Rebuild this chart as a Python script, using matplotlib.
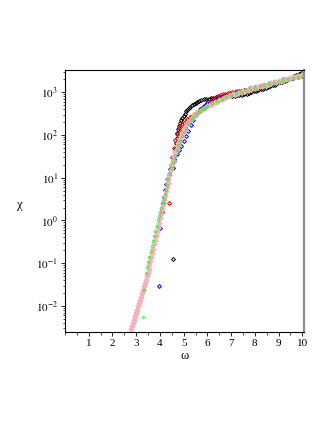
import matplotlib
matplotlib.use("Agg")
import matplotlib.pyplot as plt
from matplotlib.ticker import FixedLocator, MultipleLocator, LogLocator, NullFormatter
import numpy as np

plt.rcParams['font.family'] = ['Liberation Serif', 'DejaVu Serif']
plt.rcParams['mathtext.fontset'] = 'stix'

# log10(chi) against omega
black_w = [4.53, 4.56, 4.59, 4.62, 4.65, 4.68, 4.71, 4.74, 4.78, 4.82, 4.86, 4.90, 4.95,
           5.00, 5.05, 5.10, 5.16, 5.22, 5.28, 5.35, 5.42, 5.50, 5.58, 5.66, 5.75, 5.85,
           5.95, 6.05, 6.15, 6.25, 6.35, 6.45, 6.55, 6.65, 6.75, 6.85, 6.95, 7.05, 7.15,
           7.25, 7.35, 7.45, 7.55, 7.65, 7.75, 7.85, 7.95, 8.05, 8.15, 8.25, 8.35, 8.45,
           8.55, 8.65, 8.75, 8.85, 8.95, 9.05, 9.15, 9.25, 9.35, 9.45, 9.55, 9.65, 9.75,
           9.85, 9.95, 10.05]
black_lg = [-0.90, 1.22, 1.38, 1.54, 1.68, 1.82, 1.94, 2.04, 2.13, 2.21, 2.28, 2.34, 2.40,
            2.45, 2.50, 2.55, 2.59, 2.63, 2.66, 2.69, 2.72, 2.75, 2.77, 2.79, 2.81, 2.83,
            2.84, 2.85, 2.86, 2.87, 2.88, 2.88, 2.89, 2.90, 2.90, 2.91, 2.91, 2.92, 2.92,
            2.93, 2.93, 2.94, 2.95, 2.96, 2.98, 3.00, 3.02, 3.04, 3.05, 3.07, 3.08, 3.10,
            3.12, 3.14, 3.16, 3.18, 3.21, 3.23, 3.25, 3.27, 3.29, 3.32, 3.34, 3.37, 3.40,
            3.43, 3.46, 3.48]

red_w = [4.38, 4.45, 4.51, 4.58, 4.65, 4.72, 4.79, 4.86, 4.93, 5.00, 5.08, 5.16, 5.25,
         5.35, 5.45, 5.55, 5.65, 5.75, 5.85, 5.95, 6.05, 6.15, 6.25, 6.35, 6.45, 6.55,
         6.65, 6.75, 6.85, 6.95, 7.05, 7.15, 7.25, 7.35, 7.45, 7.55, 7.65, 7.75, 7.85,
         7.95, 8.10, 8.30, 8.50, 8.70, 8.90, 9.10, 9.30, 9.50, 9.70, 9.90, 10.00]
red_lg = [0.41, 1.30, 1.49, 1.70, 1.88, 2.02, 2.12, 2.19, 2.25, 2.29, 2.33, 2.37, 2.41,
          2.45, 2.49, 2.53, 2.57, 2.61, 2.65, 2.70, 2.75, 2.79, 2.83, 2.87, 2.90, 2.93,
          2.95, 2.97, 2.98, 2.99, 3.00, 3.01, 3.02, 3.03, 3.04, 3.05, 3.06, 3.07, 3.08,
          3.10, 3.12, 3.15, 3.18, 3.21, 3.24, 3.27, 3.30, 3.33, 3.35, 3.38, 3.39]

blue_w = [3.95, 4.02, 4.09, 4.13, 4.17, 4.21, 4.26, 4.31, 4.37, 4.44, 4.52, 4.60, 4.70,
          4.80, 4.90, 5.00, 5.10, 5.20, 5.30, 5.40, 5.50, 5.60, 5.70, 5.80, 5.90, 6.00,
          6.20, 6.40, 6.60, 6.80, 7.00, 7.20, 7.40, 7.60, 7.80, 8.00, 8.20, 8.40, 8.60,
          8.80, 9.00, 9.20, 9.40, 9.60, 9.80, 10.00]
blue_lg = [-1.53, -0.17, 0.20, 0.40, 0.55, 0.72, 0.85, 0.96, 1.08, 1.20, 1.33, 1.44, 1.56,
           1.65, 1.74, 1.85, 1.97, 2.10, 2.24, 2.36, 2.46, 2.54, 2.60, 2.65, 2.70, 2.74,
           2.80, 2.85, 2.89, 2.93, 2.97, 3.00, 3.03, 3.06, 3.09, 3.12, 3.15, 3.18, 3.21,
           3.24, 3.27, 3.30, 3.32, 3.34, 3.36, 3.38]

green_w = [3.29, 3.34, 3.41, 3.46, 3.51, 3.56, 3.61, 3.66, 3.71, 3.76, 3.81, 3.86, 3.91,
           3.96, 4.01, 4.06, 4.11, 4.16, 4.21, 4.26, 4.31, 4.36, 4.42, 4.48, 4.55, 4.62,
           4.70, 4.78, 4.86, 4.94, 5.02, 5.10, 5.20, 5.30, 5.40, 5.50, 5.60, 5.70, 5.80,
           5.90, 6.00, 6.20, 6.40, 6.60, 6.80, 7.00, 7.20, 7.40, 7.60, 7.80, 8.00, 8.20,
           8.40, 8.60, 8.80, 9.00, 9.20, 9.40, 9.60, 9.80, 10.00]
green_lg = [-2.27, -1.63, -1.22, -1.10, -0.98, -0.85, -0.72, -0.60, -0.48, -0.36, -0.24,
            -0.12, 0.00, 0.10, 0.20, 0.30, 0.40, 0.50, 0.61, 0.72, 0.84, 0.96, 1.09, 1.22,
            1.37, 1.50, 1.64, 1.76, 1.87, 1.98, 2.08, 2.17, 2.27, 2.35, 2.42, 2.48, 2.53,
            2.57, 2.61, 2.64, 2.68, 2.74, 2.79, 2.84, 2.89, 2.94, 2.98, 3.01, 3.05, 3.08,
            3.11, 3.14, 3.17, 3.20, 3.22, 3.25, 3.28, 3.31, 3.33, 3.35, 3.37]

rose_w = [2.79, 2.83, 2.87, 2.91, 2.95, 2.99, 3.03, 3.07, 3.11, 3.15, 3.19, 3.23, 3.27,
          3.31, 3.35]
rose_lg = [-2.55, -2.47, -2.40, -2.32, -2.24, -2.17, -2.09, -2.01, -1.93, -1.86, -1.78,
           -1.70, -1.62, -1.54, -1.47]

pink_w = [2.80, 2.84, 2.88, 2.92, 2.96, 3.00, 3.04, 3.08, 3.12, 3.16, 3.20, 3.24, 3.28,
          3.32, 3.36, 3.40, 3.44, 3.48, 3.52, 3.56, 3.60, 3.64, 3.68, 3.72, 3.76, 3.80,
          3.84, 3.88, 3.92, 3.96, 4.00, 4.04, 4.08, 4.12, 4.16, 4.20, 4.24, 4.28, 4.32,
          4.36, 4.40, 4.45, 4.50, 4.55, 4.60, 4.65, 4.70, 4.75, 4.80, 4.85, 4.90, 4.95,
          5.00, 5.05, 5.10, 5.15, 5.20, 5.25, 5.30, 5.35, 5.40, 5.45, 5.50, 5.55, 5.60,
          5.70, 5.80, 5.90, 6.00, 6.10, 6.20, 6.30, 6.40, 6.50, 6.60, 6.70, 6.80, 6.90,
          7.00, 7.10, 7.20, 7.30, 7.40, 7.50, 7.60, 7.70, 7.80, 7.90, 8.00, 8.10, 8.20,
          8.30, 8.40, 8.50, 8.60, 8.70, 8.80, 8.90, 9.00, 9.10, 9.20, 9.30, 9.40, 9.50,
          9.60, 9.70, 9.80, 9.90, 10.00]
pink_lg = [-2.55, -2.47, -2.40, -2.32, -2.24, -2.17, -2.09, -2.01, -1.93, -1.86, -1.78,
           -1.70, -1.62, -1.54, -1.47, -1.39, -1.31, -1.22, -1.13, -1.04, -0.95, -0.86,
           -0.76, -0.66, -0.56, -0.46, -0.36, -0.26, -0.16, -0.06, 0.05, 0.15, 0.26, 0.36,
           0.47, 0.57, 0.68, 0.78, 0.88, 0.97, 1.07, 1.19, 1.30, 1.40, 1.50, 1.59, 1.68,
           1.76, 1.84, 1.91, 1.98, 2.04, 2.10, 2.15, 2.20, 2.25, 2.30, 2.34, 2.37, 2.40,
           2.43, 2.46, 2.48, 2.51, 2.53, 2.57, 2.60, 2.64, 2.67, 2.70, 2.73, 2.76, 2.78,
           2.81, 2.83, 2.86, 2.88, 2.91, 2.93, 2.95, 2.97, 2.99, 3.00, 3.02, 3.04, 3.06,
           3.08, 3.09, 3.11, 3.12, 3.14, 3.15, 3.17, 3.18, 3.20, 3.21, 3.23, 3.24, 3.26,
           3.27, 3.29, 3.30, 3.32, 3.33, 3.35, 3.36, 3.37, 3.39, 3.40]

x_ticks = [1, 2, 3, 4, 5, 6, 7, 8, 9, 10]
y_ticks = [1e-2, 1e-1, 1e0, 1e1, 1e2, 1e3]

fig = plt.figure(figsize=(3.32, 4.30), dpi=100)
ax = fig.add_axes([65 / 332, 1 - 332 / 430, 239 / 332, 262 / 430])

open_style = dict(linestyle="none", marker="D", markersize=2.0, markerfacecolor="none",
                  markeredgewidth=0.7)
ax.plot(black_w, 10 ** np.array(black_lg), color="black", **open_style)
ax.plot(red_w, 10 ** np.array(red_lg), color="red", **open_style)
ax.plot(blue_w, 10 ** np.array(blue_lg), color="blue", **open_style)
ax.plot(rose_w, 10 ** np.array(rose_lg), color="#b0404c", **open_style)
ax.plot(pink_w, 10 ** np.array(pink_lg), linestyle="none", marker="D", markersize=2.8,
        color="#f7b3bd", markeredgewidth=0.6)
ax.plot(green_w, 10 ** np.array(green_lg), color="#22ee22", linestyle="none", marker="D",
        markersize=1.6, markerfacecolor="none", markeredgewidth=0.5)

ax.set_yscale("log")
ax.set_xlim(0, 10.07)
ax.set_ylim(10 ** -2.61, 10 ** 3.52)

ax.xaxis.set_major_locator(FixedLocator(x_ticks))
ax.xaxis.set_minor_locator(MultipleLocator(0.5))
ax.yaxis.set_major_locator(FixedLocator(y_ticks))
ax.yaxis.set_minor_locator(LogLocator(base=10, subs=np.arange(2, 10)))
ax.yaxis.set_minor_formatter(NullFormatter())
ax.set_yticklabels([r"$10^{-2}$", r"$10^{-1}$", r"$10^{0}$", r"$10^{1}$", r"$10^{2}$",
                    r"$10^{3}$"])
ax.tick_params(which="major", direction="out", length=3, width=0.6, labelsize=8, pad=2)
ax.tick_params(which="minor", direction="out", length=1.8, width=0.5)
ax.tick_params(axis="x", top=False)
ax.tick_params(axis="y", right=False)

for side in ["left", "bottom", "top"]:
    ax.spines[side].set_linewidth(0.8)
    ax.spines[side].set_color("black")
ax.spines["right"].set_linewidth(1.6)
ax.spines["right"].set_color("#8c8c8c")

fig.text(20 / 332, 1 - 205 / 430, "\u03c7", fontsize=9, ha="center", va="center")
fig.text(185 / 332, 1 - 356 / 430, "\u03c9", fontsize=9, ha="center", va="center")

fig.savefig("out.png", dpi=100)
